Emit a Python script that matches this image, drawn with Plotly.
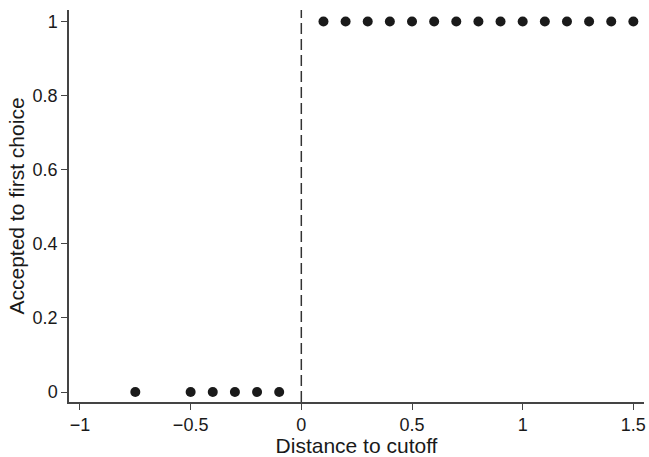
import plotly.graph_objects as go

distance = [-0.75, -0.5, -0.4, -0.3, -0.2, -0.1,
            0.1, 0.2, 0.3, 0.4, 0.5, 0.6, 0.7, 0.8, 0.9, 1.0, 1.1, 1.2, 1.3, 1.4, 1.5]
accepted = [0, 0, 0, 0, 0, 0,
            1, 1, 1, 1, 1, 1, 1, 1, 1, 1, 1, 1, 1, 1, 1]
cutoff = 0
x_ticks = [-1, -0.5, 0, 0.5, 1, 1.5]
x_tick_labels = ["\u22121", "\u22120.5", "0", "0.5", "1", "1.5"]
y_ticks = [0, 0.2, 0.4, 0.6, 0.8, 1]
y_tick_labels = ["0", "0.2", "0.4", "0.6", "0.8", "1"]

fig = go.Figure()
fig.add_trace(go.Scatter(
    x=distance, y=accepted, mode="markers",
    marker=dict(size=10, color="#1a1a1a"),
    showlegend=False,
))
fig.add_shape(type="line", x0=cutoff, x1=cutoff, y0=0, y1=1, yref="paper",
              line=dict(color="#333333", width=1.5, dash="11px,5px"))

font = "Liberation Sans, Arial, Helvetica, sans-serif"
fig.update_layout(
    width=649, height=457,
    margin=dict(l=69, r=3, t=10, b=50),
    paper_bgcolor="white", plot_bgcolor="white",
    font=dict(family=font, size=18, color="#1a1a1a"),
    xaxis=dict(
        range=[-1.0495, 1.548],
        tickvals=x_ticks, ticktext=x_tick_labels,
        showgrid=False, zeroline=False,
        showline=True, linecolor="#444444", linewidth=1.5,
        ticks="outside", ticklen=6, tickcolor="#444444", tickwidth=1,
        tickfont=dict(size=18),
        title=dict(text="Distance to cutoff", font=dict(size=21), standoff=4),
    ),
    yaxis=dict(
        range=[-0.027, 1.031],
        tickvals=y_ticks, ticktext=y_tick_labels,
        showgrid=False, zeroline=False,
        showline=True, linecolor="#444444", linewidth=1.5,
        ticks="outside", ticklen=6, tickcolor="#444444", tickwidth=1,
        tickfont=dict(size=18),
        title=dict(text="Accepted to first choice", font=dict(size=21), standoff=2),
    ),
)
fig.write_html("out.html")
